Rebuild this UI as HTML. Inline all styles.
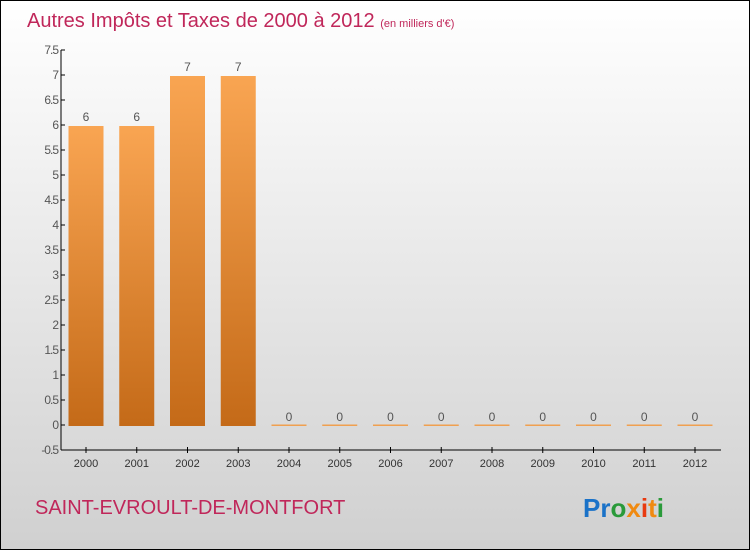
<!DOCTYPE html>
<html><head><meta charset="utf-8"><style>
body{margin:0;width:750px;height:550px;overflow:hidden;font-family:"Liberation Sans",sans-serif}
#c{position:absolute;left:0;top:0;width:748px;height:548px;border:1px solid #000;background:linear-gradient(#fff,#d0d0d0)}
</style></head><body>
<div id="c">
<svg width="748" height="548">
<defs><linearGradient id="g" x1="0" y1="0" x2="0" y2="1"><stop offset="0" stop-color="#f9a552"/><stop offset="1" stop-color="#c46a18"/></linearGradient></defs>
<text x="26" y="26" font-size="20" fill="#c0275a">Autres Impôts et Taxes de 2000 à 2012 <tspan font-size="11">(en milliers d'€)</tspan></text>
<g id="axes"></g><g id="bars"></g>
<text x="34" y="513" font-size="20" fill="#c0275a">SAINT-EVROULT-DE-MONTFORT</text>
<text x="582" y="516" font-size="26" font-weight="bold"><tspan fill="#1a72c8">Pr</tspan><tspan fill="#2a9a3a">o</tspan><tspan fill="#f08a10">x</tspan><tspan fill="#e83a10">i</tspan><tspan fill="#f08a10">t</tspan><tspan fill="#2a9a3a">i</tspan></text>
</svg></div>
<script>
const years=["2000","2001","2002","2003","2004","2005","2006","2007","2008","2009","2010","2011","2012"];
const values=[6,6,7,7,0,0,0,0,0,0,0,0,0];
const yTicks=[-0.5,0,0.5,1,1.5,2,2.5,3,3.5,4,4.5,5,5.5,6,6.5,7,7.5];
const NS="http://www.w3.org/2000/svg";
const y=v=>424-(v)*50, x=i=>85+i*50.75;
function mk(t,a,p){const e=document.createElementNS(NS,t);for(const k in a)e.setAttribute(k,a[k]);p.appendChild(e);return e;}
const ax=document.getElementById('axes'),bg=document.getElementById('bars');
let l=mk('line',{x1:60,y1:49,x2:60,y2:449,stroke:'#000'},ax);

l=mk('line',{x1:60,y1:449,x2:720,y2:449,stroke:'#000'},ax);

yTicks.forEach(v=>{mk('line',{x1:60,y1:y(v),x2:64,y2:y(v),stroke:'#000'},ax);
const t=mk('text',{x:57,y:y(v)+4,'text-anchor':'end','font-size':12,fill:'#555','letter-spacing':'-1'},ax);t.textContent=v;
});
years.forEach((yr,i)=>{mk('line',{x1:x(i),y1:446,x2:x(i),y2:452,stroke:'#000'},ax);
const t=mk('text',{x:x(i),y:466,'text-anchor':'middle','font-size':11,fill:'#333'},ax);t.textContent=yr;

const v=values[i];const h=Math.max(y(0)-y(v),1.5);
const r=mk('rect',{x:x(i)-17.5,y:y(0)-h+1,width:35,height:h,fill:v>0?'url(#g)':'#f0a050'},bg);

const lb=mk('text',{x:x(i),y:y(v)-4,'text-anchor':'middle','font-size':12,fill:'#555'},bg);lb.textContent=v;
});
</script></body></html>
